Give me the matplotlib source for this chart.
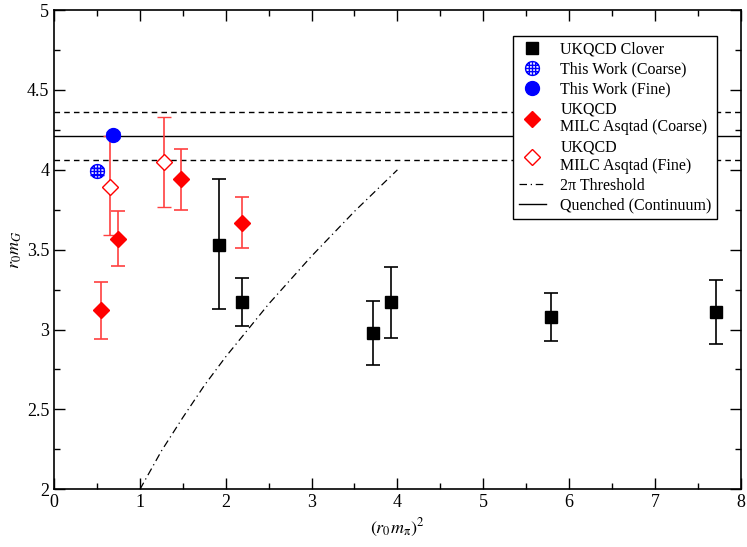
import matplotlib
matplotlib.use('Agg')
import matplotlib.pyplot as plt
import numpy as np
from matplotlib.path import Path
from matplotlib.lines import Line2D

plt.rcParams['font.family'] = ['Liberation Serif', 'DejaVu Serif']
plt.rcParams['mathtext.fontset'] = 'stix'

# UKQCD clover
clover_x = [1.92, 2.19, 3.71, 3.92, 5.79, 7.71]
clover_y = [3.53, 3.17, 2.98, 3.17, 3.08, 3.11]
clover_lo = [0.40, 0.15, 0.20, 0.22, 0.15, 0.20]
clover_hi = [0.41, 0.15, 0.20, 0.22, 0.15, 0.20]

# this work
coarse_x = [0.50]
coarse_y = [3.99]
coarse_err = [0.02]
fine_x = [0.68]
fine_y = [4.22]
fine_err = [0.02]

# UKQCD / MILC asqtad
asq_c_x = [0.55, 0.74, 1.48, 2.19]
asq_c_y = [3.12, 3.57, 3.94, 3.67]
asq_c_lo = [0.18, 0.17, 0.19, 0.16]
asq_c_hi = [0.18, 0.17, 0.19, 0.16]
asq_f_x = [0.65, 1.28]
asq_f_y = [3.89, 4.05]
asq_f_lo = [0.30, 0.28]
asq_f_hi = [0.32, 0.28]

# 2pi threshold
thr_x = [1.0, 1.25, 1.5, 1.75, 2.0, 2.5, 3.0, 3.5, 4.0]
thr_y = [2.0, 2.24, 2.45, 2.65, 2.83, 3.16, 3.46, 3.74, 4.0]

# quenched continuum
quenched = 4.21
quenched_err = 0.15

fig = plt.figure(figsize=(7.47, 5.47), dpi=100)
ax = fig.add_axes([0.0725, 0.1055, 0.919, 0.876])

ax.axhline(quenched, color='black', lw=1.0)
ax.axhline(quenched + quenched_err, color='black', lw=1.0, ls=(0, (4, 3)))
ax.axhline(quenched - quenched_err, color='black', lw=1.0, ls=(0, (4, 3)))

thr_ls = (0, (6, 3, 1, 3))
ax.plot(thr_x, thr_y, color='black', lw=0.9, ls=thr_ls)

ax.errorbar(clover_x, clover_y, yerr=[clover_lo, clover_hi], fmt='s', color='black',
            ecolor='black', ms=9, elinewidth=1.2, capsize=5, capthick=1.2)

# circle with grid marker
t = np.linspace(0, 2 * np.pi, 40)
verts = [(np.cos(a), np.sin(a)) for a in t]
codes = [Path.MOVETO] + [Path.LINETO] * (len(t) - 1)
for v in [-0.45, 0.0, 0.45]:
    h = np.sqrt(1 - v * v)
    verts += [(v, -h), (v, h), (-h, v), (h, v)]
    codes += [Path.MOVETO, Path.LINETO, Path.MOVETO, Path.LINETO]
grid_marker = Path(verts, codes)

ax.errorbar(coarse_x, coarse_y, yerr=coarse_err, fmt='none', ecolor='blue',
            elinewidth=1.0, capsize=5, capthick=1.0)
ax.plot(coarse_x, coarse_y, ls='none', marker=grid_marker, ms=10, mec='blue',
        mfc='none', mew=1.0)

ax.errorbar(fine_x, fine_y, yerr=fine_err, fmt='o', color='blue', ms=10,
            elinewidth=1.0, capsize=5, capthick=1.0)

ax.errorbar(asq_c_x, asq_c_y, yerr=[asq_c_lo, asq_c_hi], fmt='D', color='red',
            ecolor='#ff4040', ms=8, elinewidth=1.2, capsize=5, capthick=1.2)
ax.errorbar(asq_f_x, asq_f_y, yerr=[asq_f_lo, asq_f_hi], fmt='D', color='red',
            mfc='white', ecolor='#ff4040', ms=8, mew=1.0, elinewidth=1.2,
            capsize=5, capthick=1.2)

ax.set_xlim(0, 8)
ax.set_ylim(2, 5)
ax.set_xticks(np.arange(0, 9, 1))
ax.set_xticks(np.arange(0, 8.01, 0.5), minor=True)
ax.set_yticks(np.arange(2, 5.01, 0.5))
ax.set_yticks(np.arange(2, 5.01, 0.25), minor=True)
ax.set_yticklabels(['2', '2.5', '3', '3.5', '4', '4.5', '5'])
ax.tick_params(which='both', direction='in', top=True, right=True, labelsize=13)
ax.tick_params(which='major', length=8, width=1.0)
ax.tick_params(which='minor', length=4, width=1.0)
for s in ax.spines.values():
    s.set_linewidth(1.2)

ax.set_xlabel(r'$(r_0m_\mathrm{\pi})^2$', fontsize=13)
ax.set_ylabel(r'$r_0m_G$', fontsize=13, labelpad=2)

handles = [
    Line2D([], [], ls='none', marker='s', color='black', ms=9),
    Line2D([], [], ls='none', marker=grid_marker, mec='blue', mfc='none', ms=10, mew=1.0),
    Line2D([], [], ls='none', marker='o', color='blue', ms=10),
    Line2D([], [], ls='none', marker='D', color='red', ms=8),
    Line2D([], [], ls='none', marker='D', color='red', mfc='white', ms=8),
    Line2D([], [], color='black', lw=0.9, ls=thr_ls),
    Line2D([], [], color='black', lw=1.0),
]
labels = ['UKQCD Clover', 'This Work (Coarse)', 'This Work (Fine)',
          'UKQCD\nMILC Asqtad (Coarse)', 'UKQCD\nMILC Asqtad (Fine)',
          '2π Threshold', 'Quenched (Continuum)']
leg = ax.legend(handles, labels, loc='upper right',
                bbox_to_anchor=(0.966, 0.947), borderaxespad=0, fontsize=11.5,
                frameon=True, fancybox=False, edgecolor='black', framealpha=1,
                handlelength=1.7, handletextpad=0.9, labelspacing=0.25,
                borderpad=0.35)
leg.get_frame().set_linewidth(1.0)

fig.savefig('out.png', dpi=100)
